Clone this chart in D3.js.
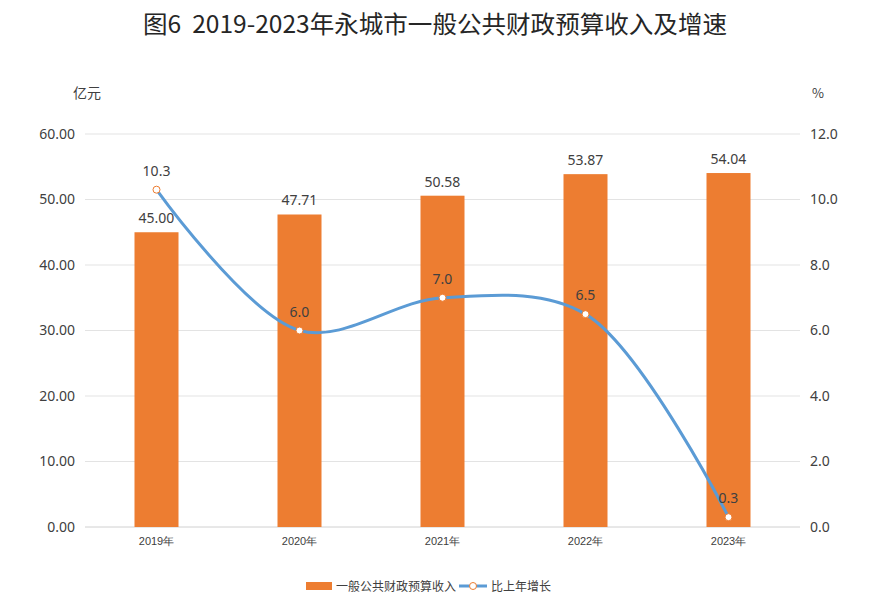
<!DOCTYPE html>
<html><head><meta charset="utf-8">
<script src="https://cdn.jsdelivr.net/npm/d3@7"></script>
<style>body{margin:0;background:#fff;}svg{display:block;font-family:"Noto Sans CJK SC","Noto Sans",sans-serif;}</style>
</head><body>
<svg id="c" width="871" height="607"></svg>
<script>
const years = ["2019年","2020年","2021年","2022年","2023年"];
const revenue = [45.00, 47.71, 50.58, 53.87, 54.04];
const growth = [10.3, 6.0, 7.0, 6.5, 0.3];
const leftTicks = [0,10,20,30,40,50,60];
const rightTicks = [0,2,4,6,8,10,12];
const title = "图6  2019-2023年永城市一般公共财政预算收入及增速";
const seriesNames = ["一般公共财政预算收入","比上年增长"];

const svg = d3.select("#c");
const L=85,R=800,T=134,B=527;
const x = d3.scaleBand().domain(years).range([L,R]);
const yL = d3.scaleLinear().domain([0,60]).range([B,T]);
const yR = d3.scaleLinear().domain([0,12]).range([B,T]);
const txt="#404040", orange="#ED7D31", blue="#5B9BD5";

svg.append("text").attr("x",435).attr("y",33).attr("text-anchor","middle")
  .attr("font-size",24).attr("fill","#262626").attr("font-weight",400)
  .style("white-space","pre").attr("textLength",584).attr("lengthAdjust","spacingAndGlyphs").text(title);

// grid
svg.append("g").selectAll("line").data(leftTicks).join("line")
  .attr("x1",L).attr("x2",R).attr("y1",d=>yL(d)).attr("y2",d=>yL(d))
  .attr("stroke",d=>d===0?"#d0d0d0":"#e3e3e3").attr("stroke-width",1);

// axes
const gl = svg.append("g").attr("transform",`translate(${L},0)`)
  .call(d3.axisLeft(yL).tickValues(leftTicks).tickFormat(d3.format(".2f")).tickSize(0).tickPadding(10));
gl.select(".domain").remove();
gl.selectAll("text").attr("font-size",14).attr("fill",txt).attr("font-family","'Noto Sans',sans-serif");
const gr = svg.append("g").attr("transform",`translate(${R},0)`)
  .call(d3.axisRight(yR).tickValues(rightTicks).tickFormat(d3.format(".1f")).tickSize(0).tickPadding(10));
gr.select(".domain").remove();
gr.selectAll("text").attr("font-size",14).attr("fill",txt).attr("font-family","'Noto Sans',sans-serif");
const gx = svg.append("g").attr("transform",`translate(0,${B})`)
  .call(d3.axisBottom(x).tickSize(0).tickPadding(10));
gx.select(".domain").remove();
gx.selectAll("text").attr("font-size",11).attr("fill",txt);

svg.append("text").attr("x",73).attr("y",98).attr("font-size",14).attr("fill",txt).text("亿元");
svg.append("text").attr("x",812).attr("y",98).attr("font-size",13).attr("fill",txt).text("%");

// bars
const bw = 44;
svg.append("g").selectAll("rect").data(revenue).join("rect")
  .attr("x",(d,i)=>x(years[i])+x.bandwidth()/2-bw/2).attr("width",bw)
  .attr("y",d=>yL(d)).attr("height",d=>B-yL(d)).attr("fill",orange);
svg.append("g").selectAll("text").data(revenue).join("text")
  .attr("x",(d,i)=>x(years[i])+x.bandwidth()/2).attr("y",d=>yL(d)-9)
  .attr("text-anchor","middle").attr("font-size",14).attr("fill",txt)
  .attr("font-family","'Noto Sans',sans-serif").text(d=>d.toFixed(2));

// line
const cx = i=>x(years[i])+x.bandwidth()/2;
const line = d3.line().x((d,i)=>cx(i)).y(d=>yR(d)).curve(d3.curveCatmullRom.alpha(0.5));
svg.append("path").datum(growth).attr("d",line).attr("fill","none")
  .attr("stroke",blue).attr("stroke-width",3).attr("stroke-linecap","round");
svg.append("g").selectAll("circle").data(growth).join("circle")
  .attr("cx",(d,i)=>cx(i)).attr("cy",d=>yR(d)).attr("r",3.5)
  .attr("fill","#fff").attr("stroke",orange).attr("stroke-width",1);
svg.append("g").selectAll("text").data(growth).join("text")
  .attr("x",(d,i)=>cx(i)).attr("y",d=>yR(d)-14)
  .attr("text-anchor","middle").attr("font-size",14).attr("fill",txt)
  .attr("font-family","'Noto Sans',sans-serif").text(d=>d.toFixed(1));

// legend
const lg = svg.append("g");
lg.append("rect").attr("x",306).attr("y",582).attr("width",26).attr("height",8).attr("fill",orange);
lg.append("text").attr("x",336).attr("y",591).attr("font-size",12).attr("fill",txt).text(seriesNames[0]);
lg.append("line").attr("x1",459).attr("x2",487).attr("y1",586).attr("y2",586).attr("stroke",blue).attr("stroke-width",3);
lg.append("circle").attr("cx",473).attr("cy",586).attr("r",3.5).attr("fill","#fff").attr("stroke",orange);
lg.append("text").attr("x",491).attr("y",591).attr("font-size",12).attr("fill",txt).text(seriesNames[1]);
</script>
</body></html>
